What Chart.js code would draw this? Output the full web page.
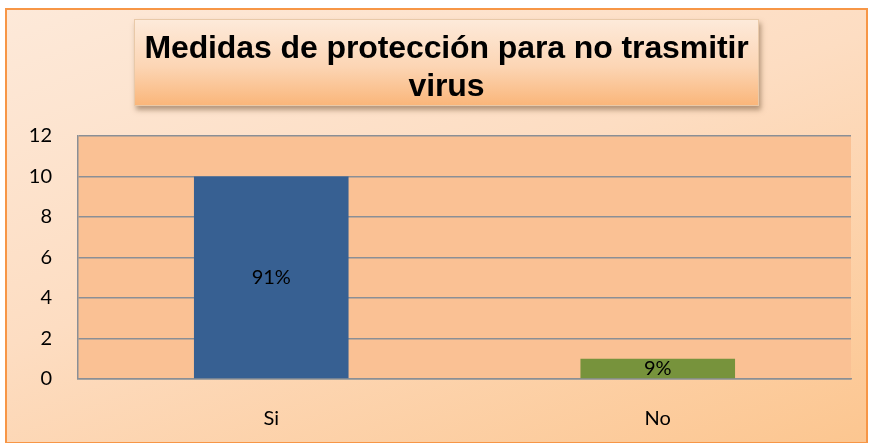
<!DOCTYPE html>
<html>
<head>
<meta charset="utf-8">
<script src="https://cdn.jsdelivr.net/npm/chart.js@4"></script>
<style>
  html, body { margin: 0; padding: 0; background: #fff; }
  #wrap { position: relative; width: 871px; height: 443px; overflow: hidden; }
  #frame {
    position: absolute; left: 5px; top: 8px; width: 859px; height: 432px;
    border: 2px solid #F79646;
    background: linear-gradient(160deg, #FDE9D9 0%, #FDDDC2 45%, #FCC690 100%);
  }
  #title {
    position: absolute; left: 134px; top: 19px; width: 625px; height: 87px;
    background: linear-gradient(180deg, #FDEADA 0%, #FCD5B4 55%, #FAB67A 100%);
    box-shadow: 2px 4px 5px rgba(120, 90, 60, 0.55);
    border: 1px solid #E9C9A8;
    font-family: "Liberation Sans", Arial, sans-serif; font-weight: bold;
    font-size: 32px; line-height: 38px; text-align: center; color: #000;
    padding-top: 8px; box-sizing: border-box; letter-spacing: -0.1px;
  }
  canvas { position: absolute; left: 0; top: 0; }
</style>
</head>
<body>
<div id="wrap">
  <div id="frame"></div>
  <canvas id="myChart" width="871" height="443"></canvas>
  <div id="title">Medidas de protección para no trasmitir<br>virus</div>
</div>
<script>
const categories = ['Si', 'No'];
const values = [10, 1];
const percentLabels = ['91%', '9%'];
const barColors = ['#376092', '#77933C'];

const plotBg = {
  id: 'plotBg',
  beforeDraw(chart) {
    const { ctx, chartArea } = chart;
    ctx.save();
    ctx.fillStyle = '#FAC194';
    ctx.fillRect(chartArea.left, chartArea.top, chartArea.right - chartArea.left, chartArea.bottom - chartArea.top);
    ctx.restore();
  }
};

const barText = {
  id: 'barText',
  afterDatasetsDraw(chart) {
    const { ctx } = chart;
    const meta = chart.getDatasetMeta(0);
    ctx.save();
    ctx.font = '20px Lato, "Noto Sans", sans-serif';
    ctx.fillStyle = '#000';
    ctx.textAlign = 'center';
    ctx.textBaseline = 'middle';
    meta.data.forEach((bar, i) => {
      const y = (bar.y + bar.base) / 2;
      ctx.fillText(percentLabels[i], bar.x, y);
    });
    ctx.restore();
  }
};

new Chart(document.getElementById('myChart'), {
  type: 'bar',
  data: {
    labels: categories,
    datasets: [{
      data: values,
      backgroundColor: barColors,
      borderWidth: 0,
      barPercentage: 1,
      categoryPercentage: 0.4
    }]
  },
  options: {
    responsive: false,
    animation: false,
    layout: { padding: { left: 0, top: 136, right: 20, bottom: 0 } },
    plugins: { legend: { display: false }, tooltip: { enabled: false }, title: { display: false } },
    scales: {
      x: {
        grid: { display: false },
        border: { display: true, color: '#8A8F96', width: 1.5 },
        ticks: { color: '#000', padding: 20, font: { family: 'Lato, "Noto Sans", sans-serif', size: 20 } },
        afterFit(scale) { scale.height = 64; }
      },
      y: {
        min: 0,
        max: 12,
        ticks: { stepSize: 2, color: '#000', padding: 26, font: { family: 'Lato, "Noto Sans", sans-serif', size: 20 } },
        grid: { color: '#8A8F96', lineWidth: 1.5, drawTicks: false },
        border: { display: true, color: '#8A8F96', width: 1.5 },
        afterFit(scale) { scale.width = 78; }
      }
    }
  },
  plugins: [plotBg, barText]
});
</script>
</body>
</html>
